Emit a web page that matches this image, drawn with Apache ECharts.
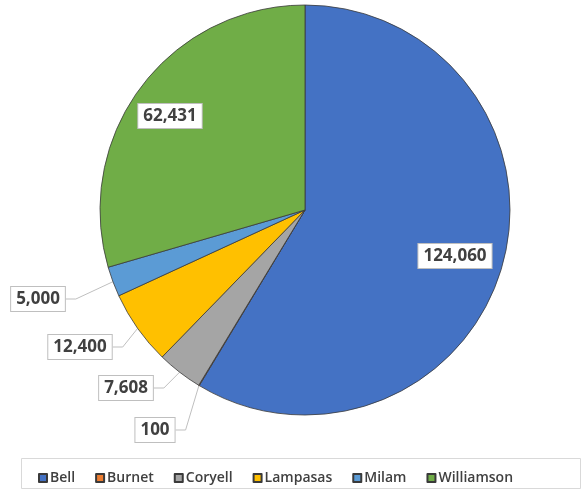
<!DOCTYPE html>
<html>
<head>
<meta charset="utf-8">
<script src="https://cdn.jsdelivr.net/npm/echarts@6/dist/echarts.min.js"></script>
<style>html,body{margin:0;padding:0;background:#fff}#c{width:583px;height:489px}</style>
</head>
<body>
<div id="c"></div>
<script>
const categories = ['Bell', 'Burnet', 'Coryell', 'Lampasas', 'Milam', 'Williamson'];
const values = [124060, 100, 7608, 12400, 5000, 62431];
const colors = ['#4472C4', '#ED7D31', '#A5A5A5', '#FFC000', '#5B9BD5', '#70AD47'];
const insideLabels = [true, false, false, false, false, true];
// label box centers (layout only)
const labelPos = [[455, 256], [155, 430], [126, 388], [80, 347], [38, 299], [170, 116]];

const chart = echarts.init(document.getElementById('c'), null, {renderer: 'canvas'});
const fmt = v => v.toLocaleString('en-US');
chart.setOption({
  animation: false,
  color: colors,
  graphic: [{
    type: 'rect', left: 21, top: 458, shape: {width: 559, height: 30},
    style: {fill: '#fff', stroke: '#D9D9D9', lineWidth: 1}, z: -1
  }],
  legend: {
    left: 33, top: 466, itemWidth: 8, itemHeight: 8, itemGap: 20,
    icon: 'rect',
    textStyle: {fontFamily: 'Open Sans', fontSize: 14, fontWeight: 600, color: '#404040', padding: [0, 0, 0, -2]},
    data: categories
  },
  series: [{
    type: 'pie',
    center: [305, 210],
    radius: [0, 205],
    startAngle: 90,
    clockwise: true,
    itemStyle: {borderColor: '#3a3a3a', borderWidth: 0.8},
    label: {
      show: true,
      formatter: p => fmt(p.value),
      fontFamily: 'Open Sans', fontSize: 17, fontWeight: 'bold', color: '#404040',
      backgroundColor: '#fff', borderColor: '#BFBFBF', borderWidth: 1, padding: [4, 5, 3, 5]
    },
    labelLine: {show: true, length: 10, length2: 10, lineStyle: {color: '#BFBFBF', width: 1}},
    labelLayout: function (params) {
      const p = labelPos[params.dataIndex];
      return {x: p[0], y: p[1], align: 'center', verticalAlign: 'middle'};
    },
    data: categories.map((c, i) => ({
      name: c, value: values[i],
      label: {position: insideLabels[i] ? 'inside' : 'outside'},
      labelLine: {show: !insideLabels[i]}
    }))
  }]
});
</script>
</body>
</html>
